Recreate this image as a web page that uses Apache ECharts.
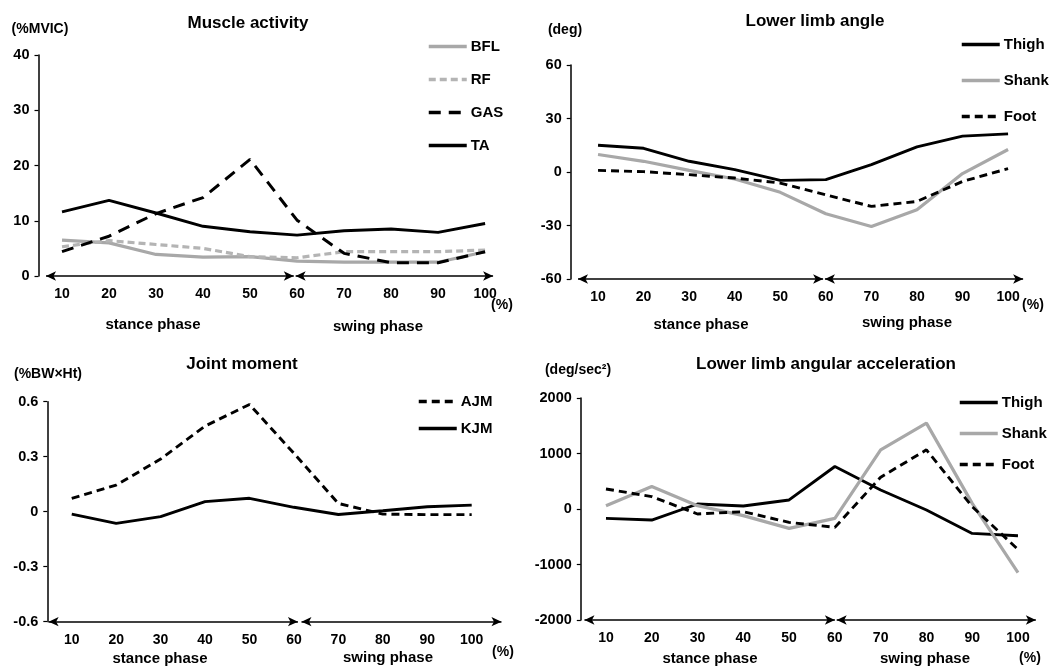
<!DOCTYPE html>
<html>
<head>
<meta charset="utf-8">
<script src="https://cdn.jsdelivr.net/npm/echarts@6/dist/echarts.min.js"></script>
<style>
html,body{margin:0;padding:0;background:#fff;}
#c{width:1056px;height:667px;}
</style>
</head>
<body>
<div id="c"></div>
<script>
// ---------- data ----------
var phase = [10, 20, 30, 40, 50, 60, 70, 80, 90, 100];
var xTicks = [10, 20, 30, 40, 50, 60, 70, 80, 90, 100];

// Muscle activity (%MVIC)
var bfl = [6.5, 6.0, 3.9, 3.4, 3.5, 2.7, 2.5, 2.5, 2.5, 4.4];
var rf  = [5.3, 6.4, 5.7, 5.0, 3.5, 3.3, 4.4, 4.4, 4.4, 4.7];
var gas = [4.4, 7.2, 11.3, 14.2, 21.1, 10.1, 4.1, 2.4, 2.4, 4.4];
var ta  = [11.6, 13.7, 11.4, 9.0, 8.0, 7.4, 8.2, 8.5, 7.9, 9.5];

// Lower limb angle (deg)
var angThigh = [15.0, 13.3, 6.0, 1.3, -4.7, -4.3, 4.1, 14.1, 20.1, 21.4];
var angShank = [9.8, 6.0, 0.9, -3.9, -11.4, -23.4, -30.6, -21.2, -0.9, 12.6];
var angFoot  = [0.9, 0.2, -1.5, -3.4, -6.2, -12.8, -19.3, -16.5, -5.3, 1.9];

// Joint moment (%BW x Ht)
var ajm = [0.073, 0.145, 0.287, 0.467, 0.585, 0.318, 0.045, -0.013, -0.016, -0.016];
var kjm = [-0.013, -0.064, -0.027, 0.055, 0.073, 0.024, -0.015, 0.005, 0.027, 0.036];

// Lower limb angular acceleration (deg/sec^2)
var accThigh = [-169, -199, 90, 54, 163, 765, 343, -18, -440, -482];
var accShank = [60, 404, 60, -120, -349, -169, 1066, 1548, 102, -1145];
var accFoot  = [361, 223, -90, -48, -241, -331, 572, 1066, 42, -729];

// ---------- styling ----------
var FONT = '"Liberation Sans", Arial, Helvetica, sans-serif';
var BLACK = '#000';
var GRAY = '#a8a8a8';
var LGRAY = '#b4b4b4';

function pairs(arr) { return phase.map(function (x, i) { return [x, arr[i]]; }); }

function lineSeries(name, arr, idx, color, width, dash) {
  return {
    type: 'line', name: name, xAxisIndex: idx, yAxisIndex: idx,
    data: pairs(arr), symbol: 'none', showSymbol: false,
    lineStyle: { color: color, width: width, type: dash || 'solid' },
    itemStyle: { color: color },
    z: 3
  };
}

function arrows(idx, y, a1, a2, b1, b2) {
  return {
    type: 'line', name: '_arrow' + idx, xAxisIndex: idx, yAxisIndex: idx,
    data: [], silent: true,
    markLine: {
      silent: true, animation: false,
      symbol: ['arrow', 'arrow'], symbolSize: [7, 10],
      label: { show: false },
      lineStyle: { color: BLACK, width: 1.5, type: 'solid' },
      data: [
        [{ coord: [a1, y] }, { coord: [a2, y] }],
        [{ coord: [b1, y] }, { coord: [b2, y] }]
      ]
    }
  };
}

var grids = [
  { left: 38.5, top: 55, width: 456, height: 221 },
  { left: 570.7, top: 65, width: 455.6, height: 214 },
  { left: 47.3, top: 401.7, width: 455.5, height: 220 },
  { left: 580.8, top: 398, width: 455.5, height: 222 }
];
var xr = [[5, 102], [4, 104], [4.5, 107], [4.5, 104]];
var yr = [[0, 40, 10], [-60, 60, 30], [-0.6, 0.6, 0.3], [-2000, 2000, 1000]];

var xAxes = grids.map(function (g, i) {
  return {
    type: 'value', gridIndex: i, min: xr[i][0], max: xr[i][1],
    axisLine: { show: false }, axisTick: { show: false }, splitLine: { show: false },
    axisLabel: {
      customValues: xTicks, margin: 11,
      color: BLACK, fontFamily: FONT, fontWeight: 'bold', fontSize: 14
    }
  };
});
var yAxes = grids.map(function (g, i) {
  return {
    type: 'value', gridIndex: i, min: yr[i][0], max: yr[i][1], interval: yr[i][2],
    axisLine: { show: true, lineStyle: { color: BLACK, width: 1.5 } },
    axisTick: { show: true, inside: false, length: 4, lineStyle: { color: BLACK, width: 1.2 } },
    splitLine: { show: false },
    axisLabel: {
      margin: 9, color: BLACK, fontFamily: FONT, fontWeight: 'bold', fontSize: 14.5,
      formatter: function (v) { return String(Math.round(v * 10) / 10); }
    }
  };
});

var series = [
  arrows(0, 0, 6.6, 59.3, 59.7, 101.7),
  lineSeries('BFL', bfl, 0, GRAY, 3.2),
  lineSeries('RF', rf, 0, LGRAY, 3.2, [7, 4]),
  lineSeries('GAS', gas, 0, BLACK, 3, [12, 8]),
  lineSeries('TA', ta, 0, BLACK, 2.9),

  arrows(1, -60, 5.6, 59.4, 59.8, 103.3),
  lineSeries('Shank', angShank, 1, GRAY, 3.2),
  lineSeries('Foot', angFoot, 1, BLACK, 2.9, [8, 5]),
  lineSeries('Thigh', angThigh, 1, BLACK, 2.9),

  arrows(2, -0.6, 4.8, 60.9, 61.7, 106.7),
  lineSeries('AJM', ajm, 2, BLACK, 2.9, [8, 5]),
  lineSeries('KJM', kjm, 2, BLACK, 2.9),

  arrows(3, -2000, 5.3, 60.0, 60.4, 103.9),
  lineSeries('Thigh', accThigh, 3, BLACK, 2.9),
  lineSeries('Shank', accShank, 3, GRAY, 3.2),
  lineSeries('Foot', accFoot, 3, BLACK, 2.9, [8, 5])
];

function legend(names, left, top, gap) {
  return {
    orient: 'vertical', left: left, top: top, itemGap: gap, padding: 0,
    itemWidth: 38, itemHeight: 14, selectedMode: false,
    itemStyle: { opacity: 0 },
    lineStyle: { width: 3.5 },
    data: names,
    textStyle: { color: BLACK, fontFamily: FONT, fontWeight: 'bold', fontSize: 15, padding: [0, 0, 0, -1] }
  };
}

function title(text, x, y) {
  return {
    text: text, left: x, top: y, textAlign: 'center', padding: 0,
    textStyle: { color: BLACK, fontFamily: FONT, fontWeight: 'bold', fontSize: 17 }
  };
}

function txt(s, x, y, size, align) {
  return {
    type: 'text', x: x, y: y, silent: true,
    style: {
      text: s, fill: BLACK, font: 'bold ' + (size || 14) + 'px ' + FONT,
      align: align || 'center', verticalAlign: 'middle'
    }
  };
}

var option = {
  animation: false,
  backgroundColor: '#fff',
  title: [
    title('Muscle activity', 248, 15),
    title('Lower limb angle', 815, 13),
    title('Joint moment', 242, 356),
    title('Lower limb angular acceleration', 826, 356)
  ],
  legend: [
    legend(['BFL', 'RF', 'GAS', 'TA'], 427, 39, 18),
    legend(['Thigh', 'Shank', 'Foot'], 960, 37, 21),
    legend(['AJM', 'KJM'], 417, 394, 12),
    legend(['Thigh', 'Shank', 'Foot'], 958, 395, 16)
  ],
  grid: grids,
  xAxis: xAxes,
  yAxis: yAxes,
  series: series,
  graphic: [
    txt('(%MVIC)', 40, 29),
    txt('(deg)', 565, 30),
    txt('(%BW\u00d7Ht)', 48, 374),
    txt('(deg/sec\u00b2)', 578, 370),
    txt('(%)', 502, 305),
    txt('(%)', 1033, 305),
    txt('(%)', 503, 652),
    txt('(%)', 1030, 658),
    txt('stance phase', 153, 325, 15),
    txt('swing phase', 378, 327, 15),
    txt('stance phase', 701, 325, 15),
    txt('swing phase', 907, 323, 15),
    txt('stance phase', 160, 659, 15),
    txt('swing phase', 388, 658, 15),
    txt('stance phase', 710, 659, 15),
    txt('swing phase', 925, 659, 15)
  ]
};

var chart = echarts.init(document.getElementById('c'), null, { renderer: 'canvas' });
chart.setOption(option);
</script>
</body>
</html>
